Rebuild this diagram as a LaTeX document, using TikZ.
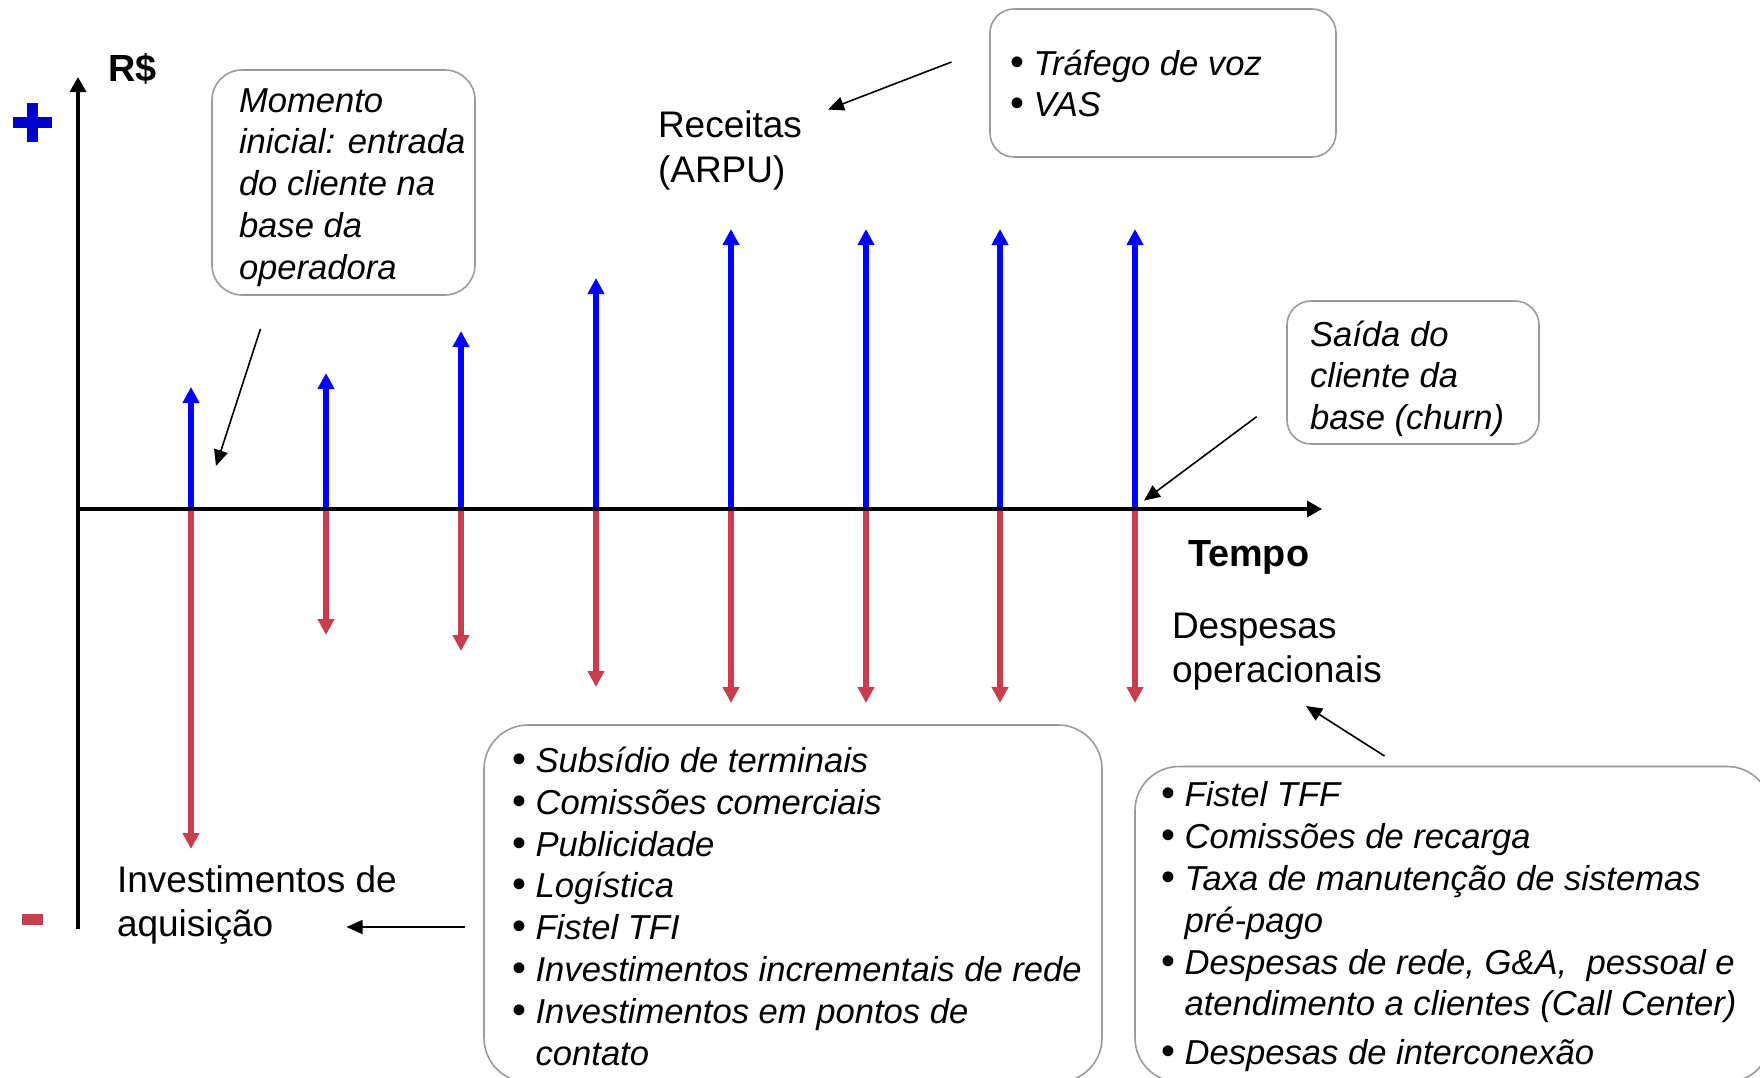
\documentclass[tikz,border=0pt]{standalone}
\usepackage{fontspec}
\setmainfont{Liberation Sans}
\usetikzlibrary{arrows.meta}
\definecolor{revblue}{RGB}{0,0,255}
\definecolor{plusblue}{RGB}{0,0,204}
\definecolor{costred}{RGB}{200,62,76}
\definecolor{boxgray}{RGB}{155,155,155}
\newcommand{\lblfont}{\fontsize{18.5pt}{22.3pt}\selectfont}
\newcommand{\itfont}{\fontsize{17.3pt}{20.8pt}\selectfont\itshape}
\newcommand{\bfnt}{\fontsize{18.9pt}{22pt}\selectfont\bfseries}
\newcommand{\bul}{\makebox[11.8pt][l]{\upshape\scalebox{1.15}{\textbullet}}}
\begin{document}
\begin{tikzpicture}[x=0.5pt,y=-0.5pt,
  every node/.style={inner sep=0pt, outer sep=0pt},
  cbox/.style={draw=boxgray, line width=0.8pt, rounded corners=#1, fill=white},
  itx/.style={anchor=base west, font=\itfont},
  lbl/.style={anchor=base west, font=\lblfont},
  bld/.style={anchor=base west, font=\bfnt},
  axisline/.style={draw=black, line width=1.65pt, -{Triangle[length=7.5pt,width=8pt]}},
  rev/.style={draw=revblue, line width=2.6pt, -{Triangle[length=8pt,width=8pt]}},
  cost/.style={draw=costred, line width=2.6pt, -{Triangle[length=8pt,width=8pt]}},
  callout/.style={draw=black, line width=0.8pt, -{Triangle[length=8pt,width=7pt]}}]
\path[use as bounding box] (0,0) rectangle (1760,1077);
\clip (0,0) rectangle (1760,1077);

% plus and minus signs
\fill[plusblue] (13,117) rectangle (52,128);
\fill[plusblue] (27,103) rectangle (38,142);
\fill[costred] (22,914) rectangle (43,925);

% vertical cash-flow arrows
\foreach \x/\t/\b [count=\i] in {191/387/849, 326/373/635, 461/331/651, 596/278/687, 731/229/703, 866/229/703, 1000/229/703, 1135/229/703} {
  \coordinate (base\i) at (\x,509);
  \coordinate (up\i) at (\x,\t);
  \coordinate (dn\i) at (\x,\b);
  \draw[rev] (base\i) -- (up\i);
  \draw[cost] (base\i) -- (dn\i);
}

% axes
\coordinate (orig) at (78,509);
\coordinate (ybot) at (78,929);
\coordinate (ytop) at (78,77);
\coordinate (xend) at (1322,509);
\draw[axisline] (ybot) -- (ytop);
\draw[axisline] (orig) -- (xend);

\node[bld] (rs) at (108,81.7) {R\$};
\node[bld] (tempo) at (1188,566) {Tempo};

% Momento box
\node[cbox=15pt, minimum width=131.5pt, minimum height=112.5pt] (mbox) at (343.5,182.5) {};
\node[itx] (mt1) at (239,112) {Momento};
\node[itx] (mt2) at (239,153.8) {inicial: entrada};
\node[itx] (mt3) at (239,195.6) {do cliente na};
\node[itx] (mt4) at (239,237.4) {base da};
\node[itx] (mt5) at (239,279.2) {operadora};
\coordinate (ma1) at (260.5,328.8);
\coordinate (ma2) at (216,466);
\draw[callout] (ma1) -- (ma2);

% Receitas
\node[lbl] (rec1) at (658,137.5) {Receitas};
\node[lbl] (rec2) at (658,182) {(ARPU)};
\node[cbox=12pt, minimum width=173pt, minimum height=74pt] (tbox) at (1163,83) {};
\node[itx] (tt1) at (1010,75) {\bul Tráfego de voz};
\node[itx] (tt2) at (1010,116.5) {\bul VAS};
\coordinate (ra1) at (951.5,62);
\coordinate (ra2) at (828,109.5);
\draw[callout] (ra1) -- (ra2);

% Saida box
\node[cbox=12pt, minimum width=126pt, minimum height=71.5pt] (sbox) at (1413,372.5) {};
\node[itx] (st1) at (1310,346) {Saída do};
\node[itx] (st2) at (1310,387.5) {cliente da};
\node[itx] (st3) at (1310,429) {base (churn)};
\coordinate (sa1) at (1256.6,416.7);
\coordinate (sa2) at (1144,500.6);
\draw[callout] (sa1) -- (sa2);

% Despesas operacionais
\node[lbl] (dop1) at (1172,638) {Despesas};
\node[lbl] (dop2) at (1172,682) {operacionais};
\coordinate (da1) at (1384.5,756);
\coordinate (da2) at (1306,706);
\draw[callout] (da1) -- (da2);

% Investimentos de aquisicao
\node[lbl] (inv1) at (117,892) {Investimentos de};
\node[lbl] (inv2) at (117,936.5) {aquisição};
\coordinate (ia1) at (465,927);
\coordinate (ia2) at (346.5,927);
\draw[callout] (ia1) -- (ia2);

% middle box
\node[cbox=22pt, minimum width=309pt, minimum height=178.5pt] (midbox) at (793,903.5) {};
\node[itx] (mb1) at (512,772.5) {\bul Subsídio de terminais};
\node[itx] (mb2) at (512,814.3) {\bul Comissões comerciais};
\node[itx] (mb3) at (512,856.1) {\bul Publicidade};
\node[itx] (mb4) at (512,897.9) {\bul Logística};
\node[itx] (mb5) at (512,939.7) {\bul Fistel TFI};
\node[itx] (mb6) at (512,981.5) {\bul Investimentos incrementais de rede};
\node[itx] (mb7) at (512,1023.3) {\bul Investimentos em pontos de};
\node[itx] (mb8) at (535.6,1065.1) {contato};

% right box
\node[cbox=22pt, minimum width=318pt, minimum height=157.75pt] (rbox) at (1453,924.25) {};
\node[itx] (rb1) at (1161,806.5) {\bul Fistel TFF};
\node[itx] (rb2) at (1161,848.5) {\bul Comissões de recarga};
\node[itx] (rb3) at (1161,890.5) {\bul Taxa de manutenção de sistemas};
\node[itx] (rb4) at (1184.6,932) {pré-pago};
\node[itx] (rb5) at (1161,974) {\bul Despesas de rede, G\&A,\ \ pessoal e};
\node[itx] (rb6) at (1184.6,1015) {atendimento a clientes (Call Center)};
\node[itx] (rb7) at (1161,1064) {\bul Despesas de interconexão};
\end{tikzpicture}
\end{document}
